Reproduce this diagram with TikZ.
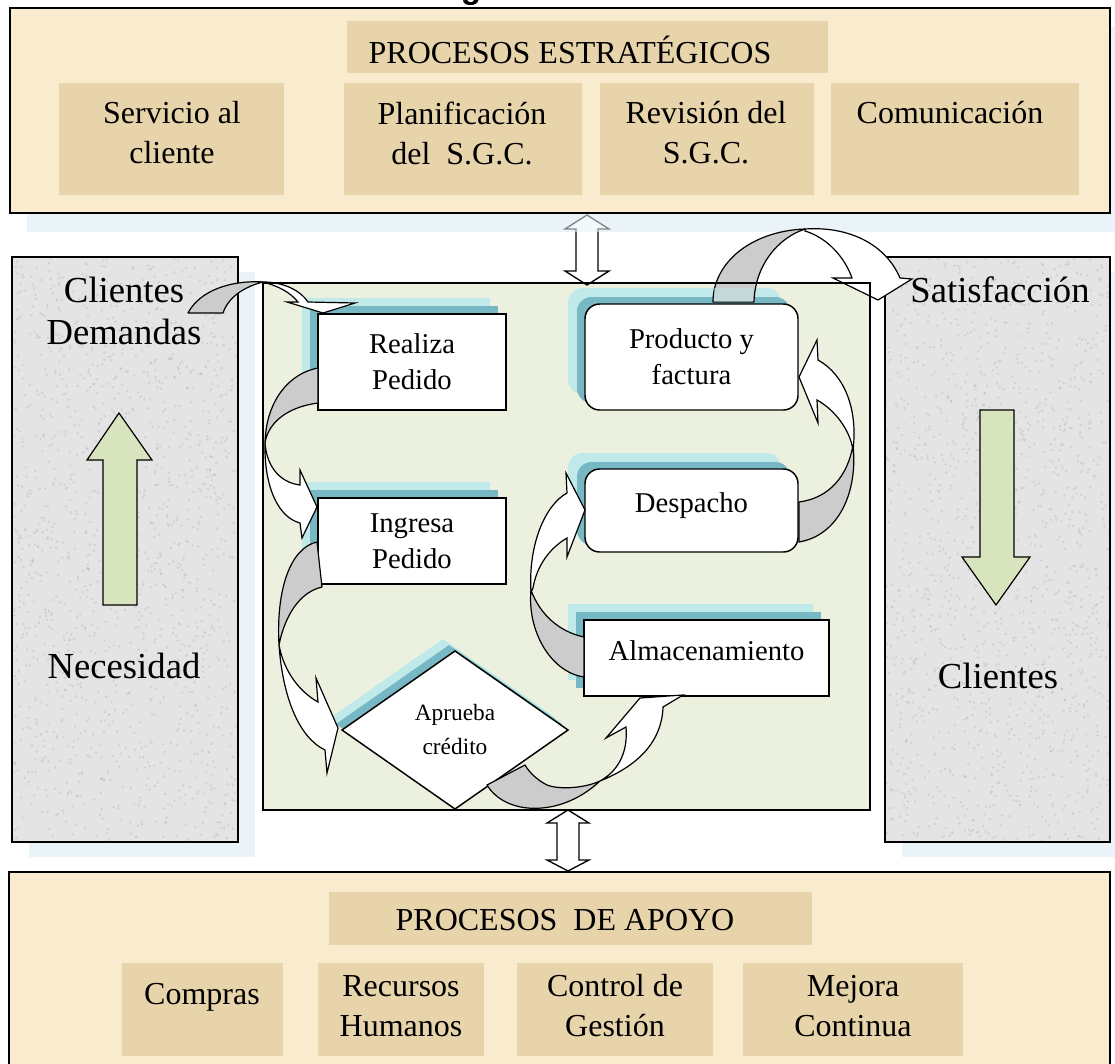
\documentclass[tikz,border=0pt]{standalone}
\usepackage{fontspec}
\setmainfont{Liberation Serif}
\newfontfamily\fragsans{Liberation Sans}
\usetikzlibrary{calc,shapes.geometric}
\pgfdeclarelayer{panels}
\pgfdeclarelayer{shadows}
\pgfdeclarelayer{front}
\pgfsetlayers{panels,shadows,main,front}
\definecolor{parch}{HTML}{F9ECCE}
\definecolor{parchbox}{HTML}{E8D4AA}
\definecolor{granite}{HTML}{E4E4E4}
\definecolor{speck}{HTML}{B8B8B8}
\definecolor{panelgreen}{HTML}{EBF1DE}
\definecolor{paleblue}{HTML}{EAF4F8}
\definecolor{shcyan}{HTML}{C0EAEA}
\definecolor{shteal}{HTML}{78B8C4}
\definecolor{arrowgreen}{HTML}{D7E4BD}
\definecolor{foldgray}{HTML}{CCCCCC}
\begin{document}
\begin{tikzpicture}[x=0.75pt,y=-0.75pt,
  every node/.style={inner sep=0pt,outer sep=0pt},
  panelbox/.style={rectangle,draw=black,line width=1.2pt},
  tanbox/.style={rectangle,fill=parchbox},
  tantxt/.style={font=\fontsize{24}{30}\selectfont,align=center},
  sidetxt/.style={font=\fontsize{27.5}{31.5}\selectfont,align=center},
  proc/.style={rectangle,draw=black,fill=white,line width=1.1pt,font=\fontsize{21.5}{27}\selectfont,align=center},
  rproc/.style={proc,rounded corners=11pt},
  foldpart/.style={fill=foldgray,draw=black,line width=0.9pt,line join=round},
  frontpart/.style={fill=white,draw=black,line width=0.9pt,line join=miter},
  greenarrow/.style={fill=arrowgreen,draw=black,line width=0.9pt},
  dblarrow/.style={fill=white,draw=black,line width=1pt}
]
\useasboundingbox (0,0) rectangle (1115,1064);
\pgfmathsetseed{11}

\begin{pgfonlayer}{panels}
\fill[white] (0,0) rectangle (1115,1064);
\node[font=\fragsans\bfseries\fontsize{25}{25}\selectfont,anchor=base] (titlefrag) at (471,-2) {g};
% shadows of the big panels
\fill[paleblue] (27,27) rectangle (1127,232);
\fill[paleblue] (29,272) rectangle (255,857);
\fill[paleblue] (902,272) rectangle (1127,857);
% top panel
\node[panelbox,fill=parch,minimum width=825pt,minimum height=153.75pt] (strat) at (560,110.5) {};
\node[tanbox,minimum width=360.75pt,minimum height=39pt] (stitlebox) at (587.5,47) {};
\node[tanbox,minimum width=168.75pt,minimum height=84pt] (s1box) at (171.5,139) {};
\node[tanbox,minimum width=178.5pt,minimum height=84pt] (s2box) at (463,139) {};
\node[tanbox,minimum width=160.5pt,minimum height=84pt] (s3box) at (707,139) {};
\node[tanbox,minimum width=186pt,minimum height=84pt] (s4box) at (955,139) {};
% bottom panel
\node[panelbox,fill=parch,minimum width=825.75pt,minimum height=152.25pt] (support) at (559.5,973.5) {};
\node[tanbox,minimum width=362.25pt,minimum height=39.75pt] (atitlebox) at (570.5,918.5) {};
\node[tanbox,minimum width=120.75pt,minimum height=69.75pt] (a1box) at (202.5,1009.5) {};
\node[tanbox,minimum width=124.5pt,minimum height=69.75pt] (a2box) at (401,1009.5) {};
\node[tanbox,minimum width=147pt,minimum height=69.75pt] (a3box) at (615,1009.5) {};
\node[tanbox,minimum width=165pt,minimum height=69.75pt] (a4box) at (853,1009.5) {};
% side panels (granite)
\node[panelbox,fill=granite,minimum width=169.5pt,minimum height=438.75pt] (leftp) at (125,549.5) {};
\node[panelbox,fill=granite,minimum width=168.75pt,minimum height=438.75pt] (rightp) at (997.5,549.5) {};
\begin{scope}
\clip (13,258) rectangle (237,841);
\foreach \i in {1,...,1400}{\fill[speck,opacity=0.45] ({13+224*rnd},{258+583*rnd}) circle (1.3);}
\end{scope}
\begin{scope}
\clip (886,258) rectangle (1109,841);
\foreach \i in {1,...,1400}{\fill[speck,opacity=0.45] ({886+223*rnd},{258+583*rnd}) circle (1.3);}
\end{scope}
\draw[line width=1.2pt] (leftp.north west) rectangle (leftp.south east);
\draw[line width=1.2pt] (rightp.north west) rectangle (rightp.south east);
% centre panel
\node[panelbox,fill=panelgreen,minimum width=455.25pt,minimum height=395.25pt] (centerp) at (566.5,546.5) {};
\end{pgfonlayer}

% texts of the top and bottom panels
\node[tantxt,text height=16pt,text depth=0pt] (tstrat) at (570,53) {PROCESOS ESTRATÉGICOS};
\node[tantxt] (ts1) at (172,133) {Servicio al\\cliente};
\node[tantxt] (ts2) at (462,133) {Planificación\\del \ S.G.C.};
\node[tantxt] (ts3) at (706,133) {Revisión del\\S.G.C.};
\node[tantxt] (ts4) at (950,113) {Comunicación};
\node[tantxt,text height=16pt,text depth=0pt] (tsup) at (565,920) {PROCESOS \ DE APOYO};
\node[tantxt] (ta1) at (202,997) {Compras};
\node[tantxt] (ta2) at (401,1006) {Recursos\\Humanos};
\node[tantxt] (ta3) at (615,1006) {Control de\\Gestión};
\node[tantxt] (ta4) at (853,1006) {Mejora\\Continua};

% green arrows in the side panels
\path[greenarrow] (119,413) -- (152,460) -- (137,460) -- (137,605) -- (103,605) -- (103,460) -- (87,460) -- cycle;
\path[greenarrow] (996,605) -- (1030,557) -- (1014,557) -- (1014,410) -- (980,410) -- (980,557) -- (962,557) -- cycle;

% double arrows
\path[dblarrow] (587,215) -- (609,229) -- (598,229) -- (598,271) -- (609,271) -- (587,285) -- (565,271) -- (576,271) -- (576,229) -- (565,229) -- cycle;
\path[dblarrow] (568,810) -- (589,823) -- (579,823) -- (579,860) -- (589,860) -- (568,871) -- (547,860) -- (557,860) -- (557,823) -- (547,823) -- cycle;

% process boxes
\node[proc,minimum width=141pt,minimum height=72pt] (realiza) at (412,362) {Realiza\\Pedido};
\node[proc,minimum width=141pt,minimum height=64.5pt] (ingresa) at (412,541) {Ingresa\\Pedido};
\node[rproc,minimum width=159.75pt,minimum height=79.5pt] (producto) at (691.5,357) {Producto y\\factura};
\node[rproc,minimum width=159.75pt,minimum height=62.25pt,text height=15.5pt,text depth=12pt] (despacho) at (691.5,510.5) {Despacho};
\node[proc,minimum width=183.75pt,minimum height=57pt,text height=15.5pt,text depth=11.5pt] (almacen) at (706.5,658) {Almacenamiento};
\node[diamond,draw=black,fill=white,line width=1.1pt,minimum width=169.5pt,minimum height=118.5pt,font=\fontsize{17.5}{25.5}\selectfont,align=center] (aprueba) at (455,730) {Aprueba\\crédito};

\begin{pgfonlayer}{shadows}
\foreach \n in {realiza,ingresa,almacen}{
  \fill[shcyan] ($(\n.south west)+(-16,-16)$) rectangle ($(\n.north east)+(-16,-16)$);
  \fill[shteal] ($(\n.south west)+(-8,-8)$) rectangle ($(\n.north east)+(-8,-8)$);
}
\foreach \n in {producto,despacho}{
  \fill[shcyan,rounded corners=11pt] ($(\n.south west)+(-17,-16)$) rectangle ($(\n.north east)+(-17,-16)$);
  \fill[shteal,rounded corners=11pt] ($(\n.south west)+(-8,-7)$) rectangle ($(\n.north east)+(-8,-7)$);
}
\fill[shcyan] ($(aprueba.north)+(-12,-12)$) -- ($(aprueba.east)+(-12,-12)$) -- ($(aprueba.south)+(-12,-12)$) -- ($(aprueba.west)+(-12,-12)$) -- cycle;
\fill[shteal] ($(aprueba.north)+(-6,-6)$) -- ($(aprueba.east)+(-6,-6)$) -- ($(aprueba.south)+(-6,-6)$) -- ($(aprueba.west)+(-6,-6)$) -- cycle;
\end{pgfonlayer}

% curved block arrows
% Clientes -> Realiza
\path[foldpart] (188,313) .. controls (200,290) and (232,280) .. (263,282) .. controls (243,287) and (228,298) .. (223,313) -- cycle;
\path[frontpart] (263,282) .. controls (283,282) and (300,290) .. (308,302) -- (355,303) -- (323,313) -- (287,302) -- (298,302) .. controls (290,292) and (278,286) .. (263,282) -- cycle;
% Realiza -> Ingresa
\path[foldpart] (318,368) .. controls (290,373) and (266,400) .. (265,443) .. controls (268,423) and (287,407) .. (318,403) -- cycle;
\path[frontpart] (265,443) .. controls (267,470) and (283,483) .. (300,485) -- (300,470) -- (317,507) -- (302,538) -- (300,523) .. controls (280,518) and (264,490) .. (265,443) -- cycle;
% Ingresa -> Aprueba
\path[foldpart] (317,542) .. controls (290,548) and (276,590) .. (279,645) .. controls (285,615) and (300,592) .. (322,587) -- cycle;
\path[frontpart] (279,645) .. controls (284,672) and (300,692) .. (318,702) -- (316,678) -- (338,728) -- (327,773) -- (325,750) .. controls (300,738) and (283,700) .. (279,645) -- cycle;
% Aprueba -> Almacenamiento
\path[foldpart] (487,785) .. controls (498,803) and (520,810) .. (542,808) .. controls (565,806) and (585,795) .. (600,781) .. controls (585,788) and (560,790) .. (547,785) .. controls (537,780) and (529,772) .. (525,765) -- cycle;
\path[frontpart] (600,781) .. controls (640,765) and (662,740) .. (663,707) -- (683,695) -- (640,698) -- (606,738) -- (626,727) .. controls (628,750) and (620,770) .. (600,781) -- cycle;
% Almacenamiento -> Despacho
\path[foldpart] (584,637) .. controls (560,632) and (540,615) .. (531,590) .. controls (527,630) and (550,672) .. (584,677) -- cycle;
\path[frontpart] (531,592) .. controls (528,545) and (545,505) .. (567,493) -- (566,473) -- (585,510) -- (567,557) -- (567,538) .. controls (550,548) and (537,565) .. (533,588) -- cycle;
% Despacho -> Producto
\path[foldpart] (799,502) .. controls (830,498) and (848,475) .. (853,445) .. controls (858,490) and (840,535) .. (799,542) -- cycle;
\path[frontpart] (853,450) .. controls (858,410) and (845,375) .. (818,360) -- (817,340) -- (799,377) -- (818,423) -- (817,400) .. controls (835,410) and (850,430) .. (853,450) -- cycle;
% Producto -> Satisfaccion
\path[foldpart] (713,302) .. controls (713,262) and (752,231) .. (805,229) .. controls (778,238) and (755,265) .. (754,302) -- cycle;
\path[frontpart] (805,229) .. controls (850,226) and (886,245) .. (900,278) -- (912,279) -- (878,300) -- (833,278) -- (852,278) .. controls (845,258) and (828,238) .. (805,231) -- cycle;

\begin{pgfonlayer}{front}
\draw[line width=1.2pt] (centerp.north west) rectangle (centerp.south east);
\fill[paleblue,opacity=0.55] (560,214) rectangle (615,232);
\fill[shcyan,opacity=0.45] (714,288) rectangle (753,302);
\node[sidetxt] (clidem) at (124,311) {Clientes\\Demandas};
\node[sidetxt] (nec) at (124,666) {Necesidad};
\node[sidetxt] (sat) at (1000,290) {Satisfacción};
\node[sidetxt] (cli2) at (998,676) {Clientes};
\end{pgfonlayer}
\end{tikzpicture}
\end{document}
